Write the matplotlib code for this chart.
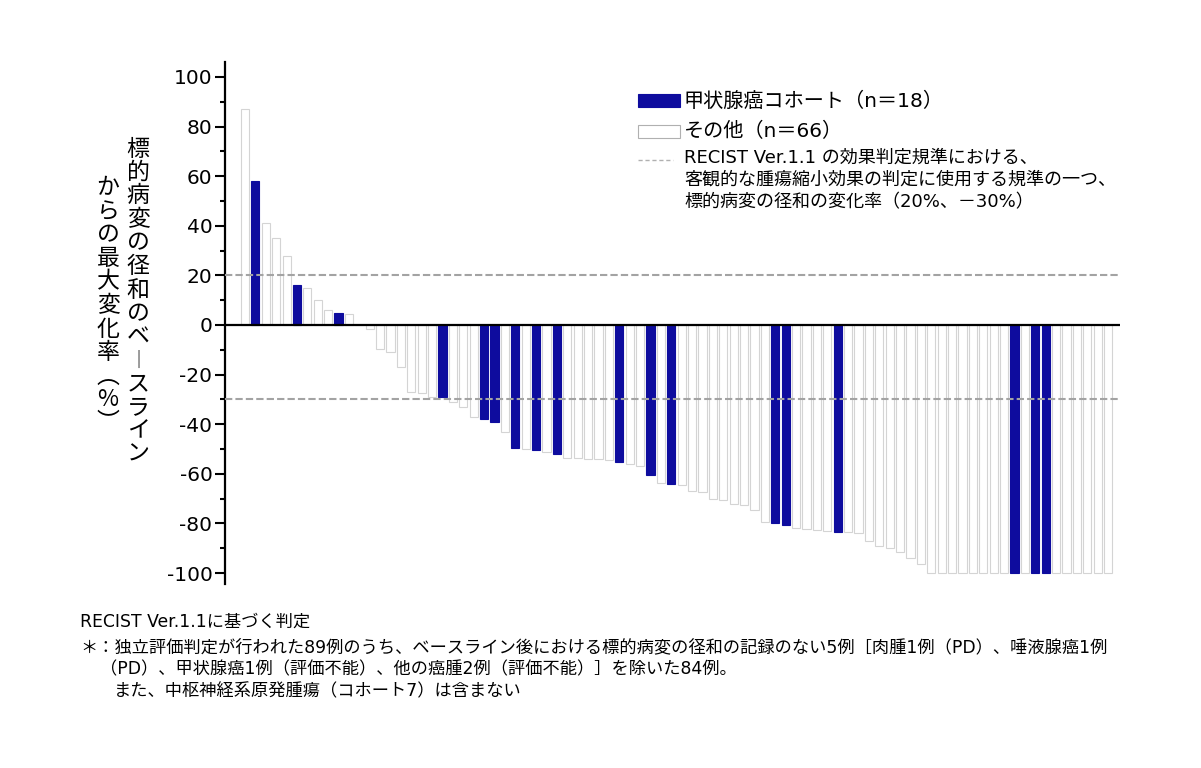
import numpy as np
import matplotlib
matplotlib.use("Agg")
import matplotlib.pyplot as plt
from matplotlib.patches import Rectangle
from matplotlib.lines import Line2D

plt.rcParams["font.family"] = ["DejaVu Sans", "Noto Sans CJK JP"]
plt.rcParams["axes.unicode_minus"] = False

W, H = 1201, 768

# 最大変化率 (%)  — 左から順に 84 例
change = [
    87, 58, 41, 35, 28, 16, 15, 10, 6, 5,
    4.5, 0, -1.5, -9.5, -11, -17, -27, -27.5, -29, -29,
    -31, -33, -37, -37.7, -39.3, -43, -49.5, -50, -50.5, -51,
    -52, -53.5, -53.8, -54, -54, -54.5, -55.3, -56, -56.7, -60.5,
    -63.8, -64.2, -64.5, -66.8, -67.4, -70, -70.5, -72, -72.5, -74.7,
    -79.3, -80, -80.5, -82, -82.2, -82.7, -83, -83.3, -83.6, -84,
    -87, -89, -89.7, -91.7, -94, -96.2, -100, -100, -100, -100,
    -100, -100, -100, -100, -100, -100, -100, -100, -100, -100,
    -100, -100, -100, -100,
]
# 甲状腺癌コホートの症例 (1始まりの番号)
thyroid = [2, 6, 10, 20, 24, 25, 27, 29, 31, 37, 40, 42, 52, 53, 58, 75, 77, 78]

yticks = [-100, -80, -60, -40, -20, 0, 20, 40, 60, 80, 100]
ref_lines = [20, -30]

# 縦書き用 (ー → ｜, （ → ︵, ） → ︶)
label_right = list("標的病変の径和のベ｜スライン")
label_left = list("からの最大変化率︵%︶")

legend_labels = ["甲状腺癌コホート（n＝18）", "その他（n＝66）"]
legend_ref = ("RECIST Ver.1.1 の効果判定規準における、\n"
              "客観的な腫瘍縮小効果の判定に使用する規準の一つ、\n"
              "標的病変の径和の変化率（20%、－30%）")

notes = [
    "RECIST Ver.1.1に基づく判定",
    "＊：独立評価判定が行われた89例のうち、ベースライン後における標的病変の径和の記録のない5例［肉腫1例（PD）、唾液腺癌1例",
    "（PD）、甲状腺癌1例（評価不能）、他の癌腫2例（評価不能）］を除いた84例。",
    "また、中枢神経系原発腫瘍（コホート7）は含まない",
]

BLUE = "#0e0c9e"
EDGE = "#d4d4d4"
DASH = "#a3a3a3"


def px(x, y):
    return x / W, 1 - y / H


fig = plt.figure(figsize=(W / 100, H / 100), dpi=100)
ax = fig.add_axes([225 / W, 1 - 584 / H, (1120 - 225) / W, (584 - 62) / H])

n = len(change)
xs = np.arange(1, n + 1)
is_thy = np.isin(xs, thyroid)
face = [BLUE if t else "white" for t in is_thy]
edge = [BLUE if t else EDGE for t in is_thy]
ax.bar(xs, change, width=0.78, color=face, edgecolor=edge, linewidth=0.8, zorder=2)

for v in ref_lines:
    ax.axhline(v, color=DASH, lw=1.5, dashes=(3.5, 1.5), zorder=3)
ax.axhline(0, color="black", lw=1.6, zorder=4)

ax.set_xlim(-0.92, n + 1.15)
ax.set_ylim(-104.4, 106)
ax.set_yticks(yticks)
ax.set_yticks(np.arange(-90, 100, 20), minor=True)
ax.set_xticks([])
for s in ["top", "right", "bottom"]:
    ax.spines[s].set_visible(False)
ax.spines["left"].set_linewidth(1.6)
ax.tick_params(axis="y", which="major", length=7, width=1.5, pad=2, labelsize=14.5)
ax.tick_params(axis="y", which="minor", length=3.5, width=1.5)

# 縦書きの軸ラベル
step = 23.5
for col_x, col_y0, chars in [(138, 149, label_right), (108, 188, label_left)]:
    for i, ch in enumerate(chars):
        fs = 13 if ch == "｜" else 16.5
        fig.text(*px(col_x, col_y0 + i * step), ch, ha="center", va="center",
                 fontsize=fs, family=["Noto Sans CJK JP", "DejaVu Sans"])

# 凡例
x0, y0 = px(638, 107)
fig.patches.append(Rectangle((x0, y0), 42 / W, 13 / H, transform=fig.transFigure,
                             facecolor=BLUE, edgecolor=BLUE, lw=0.8))
x0, y0 = px(638, 138)
fig.patches.append(Rectangle((x0, y0), 42 / W, 13 / H, transform=fig.transFigure,
                             facecolor="white", edgecolor="#b0b0b0", lw=0.8))
fig.text(*px(684, 101), legend_labels[0], ha="left", va="center", fontsize=14.5)
fig.text(*px(684, 131), legend_labels[1], ha="left", va="center", fontsize=14.5)
fig.lines.append(Line2D([638 / W, 673 / W], [1 - 160 / H, 1 - 160 / H],
                        transform=fig.transFigure, color="#b0b0b0", lw=1.0,
                        dashes=(3, 2)))
fig.text(*px(684, 149), legend_ref, ha="left", va="top", fontsize=13,
         linespacing=1.29)

# 注釈
fig.text(*px(80, 622), notes[0], ha="left", va="center", fontsize=12.4)
fig.text(*px(80, 647), notes[1], ha="left", va="center", fontsize=12.4)
fig.text(*px(100, 669), notes[2], ha="left", va="center", fontsize=12.4)
fig.text(*px(114, 691), notes[3], ha="left", va="center", fontsize=12.4)

fig.savefig("out.png", dpi=100)
